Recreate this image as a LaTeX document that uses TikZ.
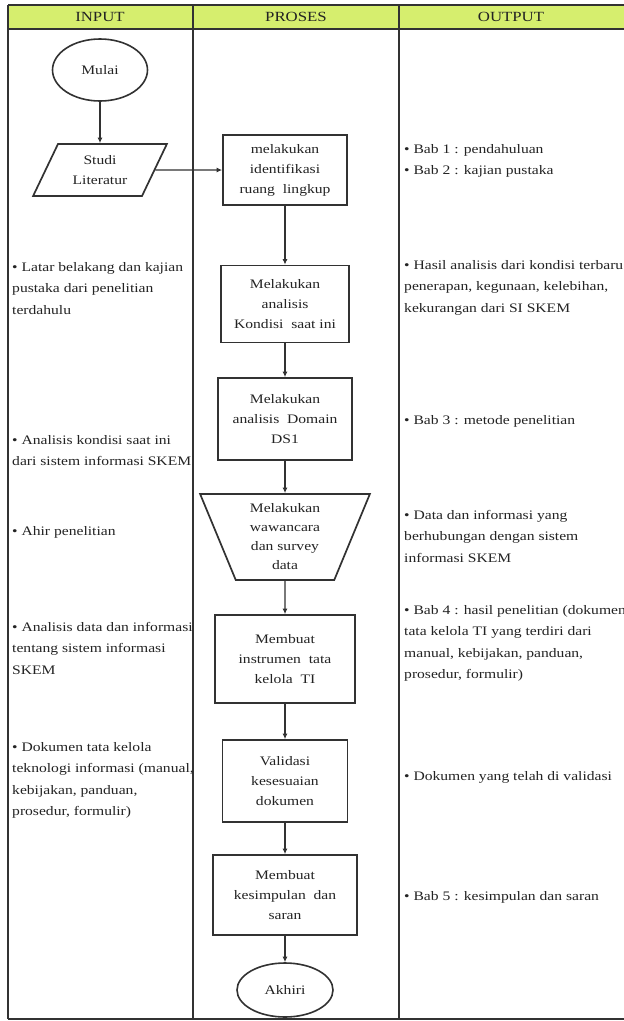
\documentclass[tikz,border=0pt]{standalone}
\usepackage{fontspec}
\setmainfont{Liberation Serif}[FakeStretch=1.2]
\usetikzlibrary{shapes.geometric,arrows.meta}
\definecolor{hdr}{RGB}{214,238,110}
\definecolor{ln}{RGB}{50,50,50}
\definecolor{tx}{RGB}{35,35,35}
\begin{document}
\begin{tikzpicture}[x=1pt,y=-1pt,
  tbl/.style={draw=ln,line width=1.8pt},
  proc/.style={draw=ln,line width=1.7pt,rectangle,align=center,text=tx,inner sep=0pt,font=\fontsize{13}{20}\selectfont},
  term/.style={draw=ln,line width=1.6pt,ellipse,inner sep=0pt,text=tx,font=\fontsize{13}{16}\selectfont},
  side/.style={anchor=north west,align=left,inner sep=0pt,text=tx,font=\fontsize{13}{21.5}\selectfont},
  flow/.style={draw=ln,line width=1.4pt,-{Latex[length=5.5pt,width=5pt]}},
  hd/.style={text=tx,inner sep=0pt,font=\fontsize{14}{16}\selectfont}]
\useasboundingbox (0,0) rectangle (624,1021);
\fill[white] (0,0) rectangle (624,1021);
% table
\fill[hdr] (8,5) rectangle (624,29);
\draw[tbl] (8,5) -- (624,5);
\draw[tbl] (8,29) -- (624,29);
\draw[tbl] (8,1019) -- (624,1019);
\draw[tbl] (8,5) -- (8,1019);
\draw[tbl] (193,5) -- (193,1019);
\draw[tbl] (399,5) -- (399,1019);
\node[hd] (hin) at (100,17) {INPUT};
\node[hd] (hpr) at (296,17) {PROSES};
\node[hd] (hout) at (511,17) {OUTPUT};
% flow nodes
\node[term,minimum width=95,minimum height=62] (mulai) at (100,70) {Mulai};
\node[draw=ln,line width=1.7pt,trapezium,trapezium left angle=61,trapezium right angle=119,
      trapezium stretches=true,minimum width=134,minimum height=52,inner sep=0pt,
      align=center,text=tx,font=\fontsize{13}{20}\selectfont] (studi) at (100,170) {Studi\\Literatur};
\node[proc,minimum width=124,minimum height=70] (b1) at (285,170) {melakukan\\identifikasi\\ruang\ \ lingkup};
\node[proc,minimum width=128,minimum height=77] (b2) at (285,304) {Melakukan\\analisis\\Kondisi\ \ saat ini};
\node[proc,minimum width=134,minimum height=82] (b3) at (285,419) {Melakukan\\analisis\ \ Domain\\DS1};
\node[draw=ln,line width=1.7pt,trapezium,shape border rotate=180,trapezium left angle=69,trapezium right angle=69,
      trapezium stretches=true,minimum width=170,minimum height=86,inner sep=0pt,
      align=center,text=tx,font=\fontsize{13}{19}\selectfont] (b4) at (285,537) {Melakukan\\wawancara\\dan survey\\data};
\node[proc,minimum width=140,minimum height=88] (b5) at (285,659) {Membuat\\instrumen\ \ tata\\kelola\ \ TI};
\node[proc,minimum width=125,minimum height=82] (b6) at (285,781) {Validasi\\kesesuaian\\dokumen};
\node[proc,minimum width=144,minimum height=80] (b7) at (285,895) {Membuat\\kesimpulan\ \ dan\\saran};
\node[term,minimum width=96,minimum height=54] (akhir) at (285,990) {Akhiri};
% connectors
\draw[flow] (mulai) -- (studi);
\draw[flow] (studi) -- (b1);
\draw[flow] (b1) -- (b2);
\draw[flow] (b2) -- (b3);
\draw[flow] (b3) -- (b4);
\draw[flow] (b4) -- (b5);
\draw[flow] (b5) -- (b6);
\draw[flow] (b6) -- (b7);
\draw[flow] (b7) -- (akhir);
% input texts
\node[side] (i1) at (12,262) {• Latar belakang dan kajian\\pustaka dari penelitian\\terdahulu};
\node[side] (i2) at (12,435) {• Analisis kondisi saat ini\\dari sistem informasi SKEM};
\node[side] (i3) at (12,526) {• Ahir penelitian};
\node[side] (i4) at (12,622) {• Analisis data dan informasi\\tentang sistem informasi\\SKEM};
\node[side] (i5) at (12,742) {• Dokumen tata kelola\\teknologi informasi (manual,\\kebijakan, panduan,\\prosedur, formulir)};
% output texts
\node[side] (o1) at (404,144) {• Bab 1 : pendahuluan\\• Bab 2 : kajian pustaka};
\node[side] (o2) at (404,260) {• Hasil analisis dari kondisi terbaru\\penerapan, kegunaan, kelebihan,\\kekurangan dari SI SKEM};
\node[side] (o3) at (404,415) {• Bab 3 : metode penelitian};
\node[side] (o4) at (404,510) {• Data dan informasi yang\\berhubungan dengan sistem\\informasi SKEM};
\node[side] (o5) at (404,605) {• Bab 4 : hasil penelitian (dokumen\\tata kelola TI yang terdiri dari\\manual, kebijakan, panduan,\\prosedur, formulir)};
\node[side] (o6) at (404,771) {• Dokumen yang telah di validasi};
\node[side] (o7) at (404,891) {• Bab 5 : kesimpulan dan saran};
\end{tikzpicture}
\end{document}
